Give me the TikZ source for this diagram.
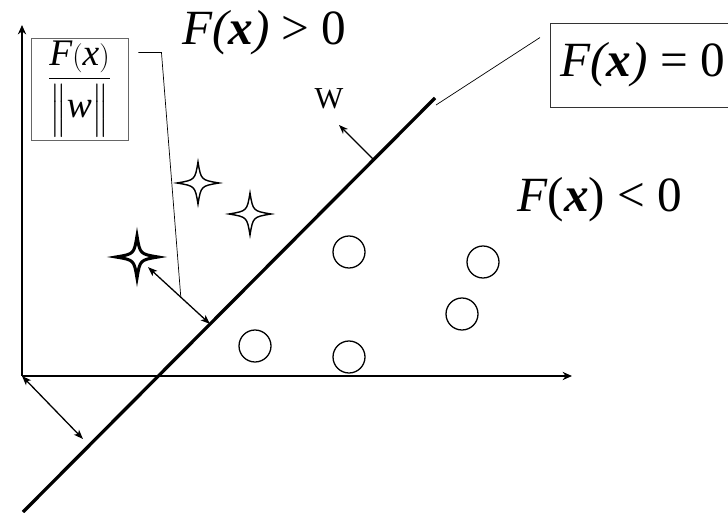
\documentclass[tikz,border=0pt]{standalone}
\usepackage{amsmath}
\usepackage{fontspec}
\setmainfont{Liberation Serif}
\usetikzlibrary{shapes,arrows.meta,positioning,calc,fit}

\tikzset{
  sparkle/.pic={
    \draw[pic actions] (0,-21) .. controls (3,-3) .. (21,0) .. controls (3,3) .. (0,21)
      .. controls (-3,3) .. (-21,0) .. controls (-3,-3) .. cycle;
  }
}

\begin{document}
\begin{tikzpicture}[
  x=0.03cm, y=-0.03cm,
  axisline/.style={line width=1.3pt, -{Stealth[length=8pt, width=7pt]}},
  hyper/.style={line width=2.8pt},
  leader/.style={line width=0.6pt},
  gap/.style={line width=1.1pt, {Stealth[length=8pt, width=6pt, inset=2pt]}-{Stealth[length=8pt, width=6pt, inset=2pt]}},
  dot/.style={circle, draw, line width=1.1pt, minimum size=0.96cm, inner sep=0pt},
  bigtext/.style={font=\fontsize{42}{46}\selectfont, inner sep=0pt},
  labelbox/.style={rectangle, draw=black!60, line width=0.8pt, inner sep=0pt},
  >=Stealth
]
\useasboundingbox (0,0) rectangle (728,513);
\clip (0,0) rectangle (728,513);

% --- Ejes ---
\coordinate (O) at (22,376);
\coordinate (ytop) at (22,25);
\coordinate (xend) at (572,376);
\draw[axisline] (O) -- (ytop);
\draw[axisline] (O) -- (xend);

% --- Hiperplano y vector w ---
\coordinate (hpA) at (23,512);
\coordinate (hpB) at (435,98);
\draw[hyper] (hpA) -- (hpB);
\coordinate (wbase) at (373,159);
\coordinate (wtip) at (339,125);
\draw[->, line width=1.1pt] (wbase) -- (wtip);
\node[font=\fontsize{26}{28}\selectfont, inner sep=0pt] (wlab) at (329,99) {W};

% --- Clases ---
\coordinate (s1) at (198,183);
\coordinate (s2) at (250,214);
\coordinate (s3) at (137,257);
\pic[line width=1.2pt] at (s1) {sparkle};
\pic[line width=1.2pt] at (s2) {sparkle};
\pic[line width=2.6pt] at (s3) {sparkle};
\node[dot] (c1) at (349,252) {};
\node[dot] (c2) at (483,262) {};
\node[dot] (c3) at (462,314) {};
\node[dot] (c4) at (255,346) {};
\node[dot] (c5) at (349,357) {};

% --- Distancias ---
\coordinate (bfoot) at (210,324);
\coordinate (ofoot) at (83,439);
\draw[gap, shorten <=0.45cm] (s3) -- (bfoot);
\draw[gap] (O) -- (ofoot);

% --- Etiquetas ---
\node[bigtext, anchor=base west] (pos) at (182,45) {\textit{F(\textbf{x})} > 0};
\node[bigtext, anchor=base west] (neg) at (517,212) {\textit{F}(\textbf{\textit{x}}) < 0};
\node[labelbox, draw=black!80, anchor=west, minimum height=2.52cm, inner xsep=0.3cm, font=\fontsize{42}{46}\selectfont] (zero) at (550,65) {\textit{F(\textbf{x})} = 0};
\node[labelbox, fit={(31,38) (128,140)}] (ratio) {};
\node[inner sep=0pt, font=\fontsize{32}{36}\selectfont] (frac) at (ratio.center)
  {$\dfrac{\textit{F}(\textit{x})\rule[-6pt]{0pt}{6pt}}{\rule{0pt}{30pt}\Big\|\textit{w}\Big\|}$};

\draw[leader] ($(zero.north west)+(-10,15)$) -- ($(hpB)+(1,7)$);
\draw[leader] ($(ratio.north east)+(10,15)$) -- ++(23,0) -- ($(s3)!0.6!(bfoot)$);

\end{tikzpicture}
\end{document}
